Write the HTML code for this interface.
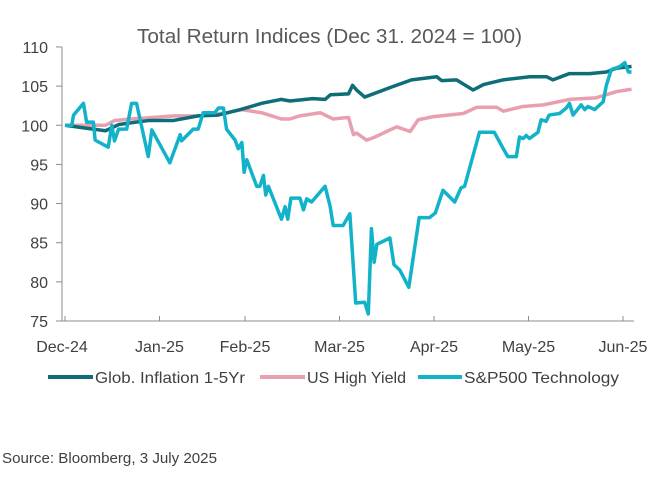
<!DOCTYPE html>
<html><head><meta charset="utf-8"><style>
body{margin:0;background:#fff;width:652px;height:476px;overflow:hidden;font-family:"Liberation Sans",sans-serif}
svg text{font-family:"Liberation Sans",sans-serif;fill:#404040}
</style></head><body>
<svg width="652" height="476">
<text x="137" y="43" font-size="20" textLength="385" lengthAdjust="spacingAndGlyphs" style="fill:#595959">Total Return Indices (Dec 31. 2024 = 100)</text>
<g id="axes"></g><g id="series"></g>
<g>
<line x1="48" y1="377" x2="93" y2="377" stroke="#0e6e78" stroke-width="4"/>
<text x="95" y="383" font-size="16" textLength="150" lengthAdjust="spacingAndGlyphs">Glob. Inflation 1-5Yr</text>
<line x1="260" y1="377" x2="305" y2="377" stroke="#e8a0b0" stroke-width="4"/>
<text x="307" y="383" font-size="16" textLength="99" lengthAdjust="spacingAndGlyphs">US High Yield</text>
<line x1="418" y1="377" x2="462" y2="377" stroke="#12b3c8" stroke-width="4"/>
<text x="464" y="383" font-size="16" textLength="155" lengthAdjust="spacingAndGlyphs">S&amp;P500 Technology</text>
</g>
<text x="2" y="463" font-size="15" textLength="215" lengthAdjust="spacingAndGlyphs">Source: Bloomberg, 3 July 2025</text>
</svg>
<script>
const yTicks=[75,80,85,90,95,100,105,110];
const xLabels=["Dec-24","Jan-25","Feb-25","Mar-25","Apr-25","May-25","Jun-25"];
const xTickDays=[0,21,40,61,82,103,124];
const techDays=[0,1.5,1.9,4.1,4.8,6.3,6.7,9.6,10.4,11,11.9,13.7,14.8,15.9,18.5,19.3,23.3,25.6,25.9,28.5,29.6,30.7,33.3,34.1,35.2,35.9,37.8,38.5,39.3,39.8,40.4,42.6,43.3,44.1,44.6,45.2,48.1,48.9,49.5,50.2,52.2,53,53.7,54.8,57.8,58.9,59.6,61.8,63.3,64.6,66.6,67.4,68.1,68.7,69.3,72.2,73.1,74.4,76.4,78.7,81,82.3,84,86.6,88,88.8,92.1,95.4,97.3,98.4,100.3,101,101.8,102.5,103.2,105.1,105.8,106.9,107.6,109.9,111.4,112.1,112.9,114.7,115.5,116.2,117.7,119.6,120.3,121.4,123.3,124.4,125.2,125.9];
const techVals=[100,100,101.3,102.8,100.4,100.4,98.1,97.2,100,98,99.5,99.5,102.8,102.8,96,99.4,95.2,98.8,98,99.5,99.5,101.6,101.6,102.2,102.2,99.5,98.1,97,97.8,94,95.6,92.2,92.2,93.6,91.1,92.2,88,89.6,88,90.7,90.7,89.2,90.6,90.2,92.2,89.7,87.2,87.2,88.7,77.3,77.4,75.9,86.8,82.5,84.8,85.6,82.2,81.5,79.3,88.2,88.2,88.8,91.7,90.2,92,92.2,99.1,99.1,97.1,96,96,98.5,98.3,98.7,98.3,99.1,100.7,100.5,101.3,101.5,102.2,102.8,101.3,102.6,102,102.4,102,103,105.1,107.1,107.5,108,106.8,106.8];
const inflDays=[0,5,9,12,18.5,24,29.6,34,39,43.7,48,50,55,57.8,59,63,63.9,64.8,66.6,72.2,77,82.6,83.7,87,90.7,93,97.4,103.3,107,108.4,112.1,116.6,120.3,122.6,125.9];
const inflVals=[100,99.6,99.3,100.1,100.6,100.6,101.2,101.3,102,102.8,103.3,103.1,103.4,103.3,103.9,104,105.1,104.5,103.6,104.8,105.8,106.2,105.7,105.8,104.5,105.2,105.8,106.2,106.2,105.8,106.6,106.6,106.8,107.3,107.5];
const hyDays=[0,9,11,14.8,24.4,29.6,36,39.3,43.7,48.1,50,52.2,56.7,59.6,63,64.1,64.8,67,68.5,73.7,76.7,78.5,81.9,88.5,91.5,95.9,97.4,101.8,106.3,112.1,118,122.6,125.9];
const hyVals=[100,100,100.6,100.8,101.2,101.2,101.6,102,101.6,100.8,100.8,101.2,101.6,100.8,101,98.8,99,98.1,98.4,99.8,99.2,100.7,101.1,101.5,102.3,102.3,101.8,102.4,102.6,103.3,103.5,104.3,104.6];
const X0=65,PX=4.5,Y0=321,PY=7.83;
const xs=d=>X0+d*PX, ys=v=>Y0-(v-75)*PY;
const NS="http://www.w3.org/2000/svg";
const axes=document.getElementById('axes'), ser=document.getElementById('series');
function mk(tag,attrs,parent){const e=document.createElementNS(NS,tag);for(const k in attrs)e.setAttribute(k,attrs[k]);parent.appendChild(e);return e;}
let l=mk('line',{x1:62,y1:ys(110),x2:62,y2:Y0,stroke:'#8c8c8c','stroke-width':1},axes);


l=mk('line',{x1:62,y1:Y0,x2:634,y2:Y0,stroke:'#8c8c8c','stroke-width':1},axes);


yTicks.forEach(v=>{
 const t=mk('line',{x1:56,y1:ys(v),x2:62,y2:ys(v),stroke:'#8c8c8c'},axes);
 
 
 const tx=mk('text',{x:48,y:ys(v)+6,'text-anchor':'end','font-size':16},axes);tx.textContent=v;
 
 
});
xTickDays.forEach((d,i)=>{
 const t=mk('line',{x1:xs(d),y1:Y0,x2:xs(d),y2:Y0-5,stroke:'#8c8c8c'},axes);
 
 
 const tx=mk('text',{x:i==0?xs(d)-3:xs(d),y:352,'text-anchor':'middle','font-size':16},axes);tx.textContent=xLabels[i];
 
 
});
function line(days,vals,color,name){
 const p=mk('polyline',{points:days.map((d,i)=>xs(d)+','+ys(vals[i])).join(' '),fill:'none',stroke:color,'stroke-width':3.5,'stroke-linejoin':'round'},ser);
 
 
}
line(hyDays,hyVals,'#e8a0b0','series-us-high-yield');
line(inflDays,inflVals,'#0e6e78','series-glob-inflation');
line(techDays,techVals,'#12b3c8','series-sp500-technology');
</script>
</body></html>
